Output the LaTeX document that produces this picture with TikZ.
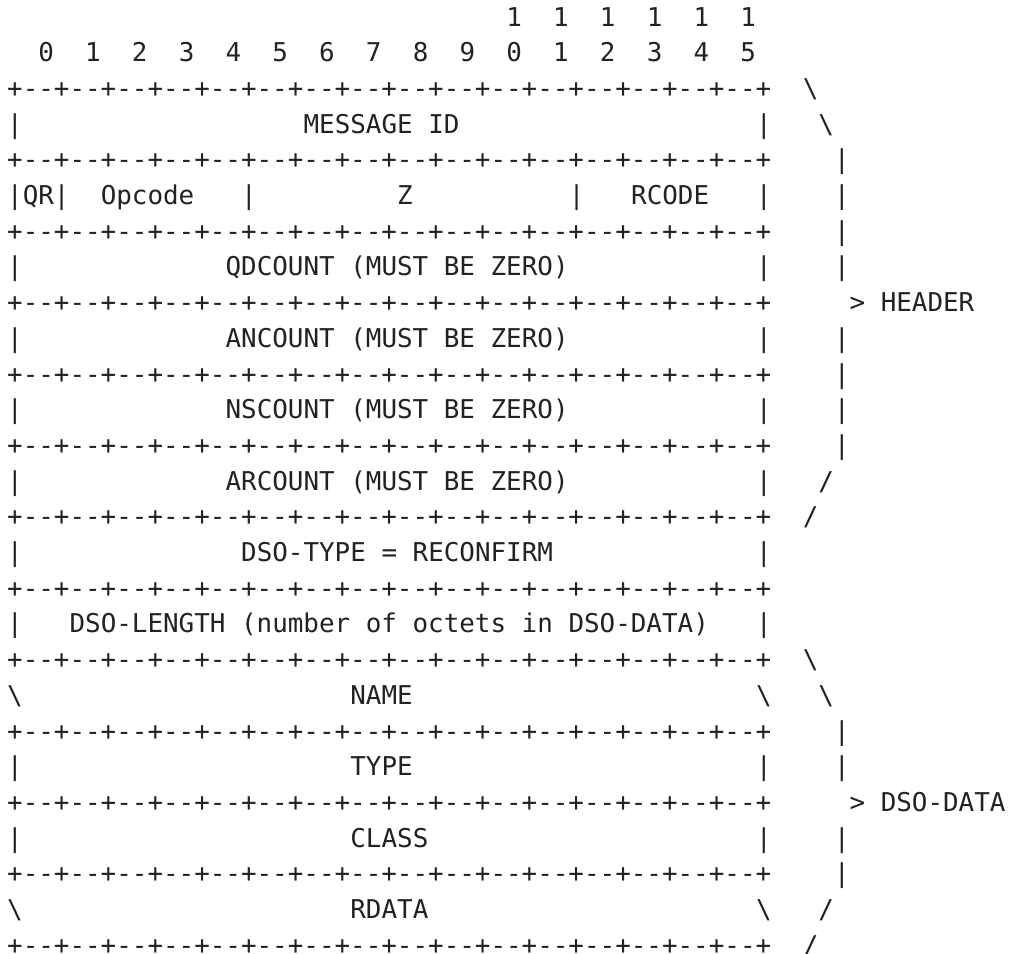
\documentclass[tikz,border=0pt]{standalone}
\usepackage{fontspec}
\setmonofont{DejaVu Sans Mono}
\usepackage{xcolor}
\usepackage{tikz}
\definecolor{ink}{HTML}{222222}
\newcommand{\fourbits}{--+--+--+--+}
\newcommand{\borderline}{+\fourbits\fourbits\fourbits\fourbits}

\begin{document}
\begin{tikzpicture}[x=7.8pt, y=17.85pt,
    ascii/.style={anchor=base west, inner sep=0pt, outer sep=0pt, text=ink,
      font=\fontsize{12.95pt}{17.85pt}\selectfont\ttfamily}]
        \useasboundingbox (-0.46,0.73) rectangle (64.41,-25.97);
        % Bit numbers
        \foreach \i in {0,...,15}{
            \pgfmathtruncatemacro{\col}{3*\i+2}
            \pgfmathtruncatemacro{\unit}{mod(\i,10)}
            \node[ascii] (bit\i) at (\col,-1) {\unit};
            \ifnum\i>9 \node[ascii] (ten\i) at (\col,0) {1};\fi
        }
        % Row borders
        \foreach \r in {2,4,...,26}
            \node[ascii] (rule\r) at (0,-\r) {\borderline};
        % Field edges
        \foreach \r in {3,5,7,9,11,13,15,17,21,23}{
            \node[ascii] (left\r) at (0,-\r) {|};
            \node[ascii] (right\r) at (48,-\r) {|};
        }
        \foreach \r in {19,25}{
            \node[ascii] (left\r) at (0,-\r) {\textbackslash};
            \node[ascii] (right\r) at (48,-\r) {\textbackslash};
        }
        % Header fields
        \node[ascii] (msgid) at (19,-3) {MESSAGE ID};
        \node[ascii] (qr) at (1,-5) {QR|};
        \node[ascii] (opcode) at (6,-5) {Opcode};
        \node[ascii] (sepa) at (15,-5) {|};
        \node[ascii] (zbits) at (25,-5) {Z};
        \node[ascii] (sepb) at (36,-5) {|};
        \node[ascii] (rcode) at (40,-5) {RCODE};
        \foreach \r/\sect in {7/QD,9/AN,11/NS,13/AR}
            \node[ascii] (count\r) at (14,-\r) {\sect COUNT (MUST BE ZERO)};
        % DSO fields
        \node[ascii] (dsotype) at (15,-15) {DSO-TYPE = RECONFIRM};
        \node[ascii] (dsolen) at (4,-17) {DSO-LENGTH (number of octets in DSO-DATA)};
        \node[ascii] (rrname) at (22,-19) {NAME};
        \node[ascii] (rrtype) at (22,-21) {TYPE};
        \node[ascii] (rrclass) at (22,-23) {CLASS};
        \node[ascii] (rrdata) at (22,-25) {RDATA};
        % HEADER brace
        \node[ascii] (hdtopa) at (51,-2) {\textbackslash};
        \node[ascii] (hdtopb) at (52,-3) {\textbackslash};
        \foreach \r in {4,5,6,7,9,10,11,12}
            \node[ascii] (hdbar\r) at (53,-\r) {|};
        \node[ascii] (header) at (54,-8) {> HEADER};
        \node[ascii] (hdbota) at (52,-13) {/};
        \node[ascii] (hdbotb) at (51,-14) {/};
        % DSO-DATA brace
        \node[ascii] (ddtopa) at (51,-18) {\textbackslash};
        \node[ascii] (ddtopb) at (52,-19) {\textbackslash};
        \foreach \r in {20,21,23,24}
            \node[ascii] (ddbar\r) at (53,-\r) {|};
        \node[ascii] (dsodata) at (54,-22) {> DSO-DATA};
        \node[ascii] (ddbota) at (52,-25) {/};
        \node[ascii] (ddbotb) at (51,-26) {/};
    \end{tikzpicture}
\end{document}
